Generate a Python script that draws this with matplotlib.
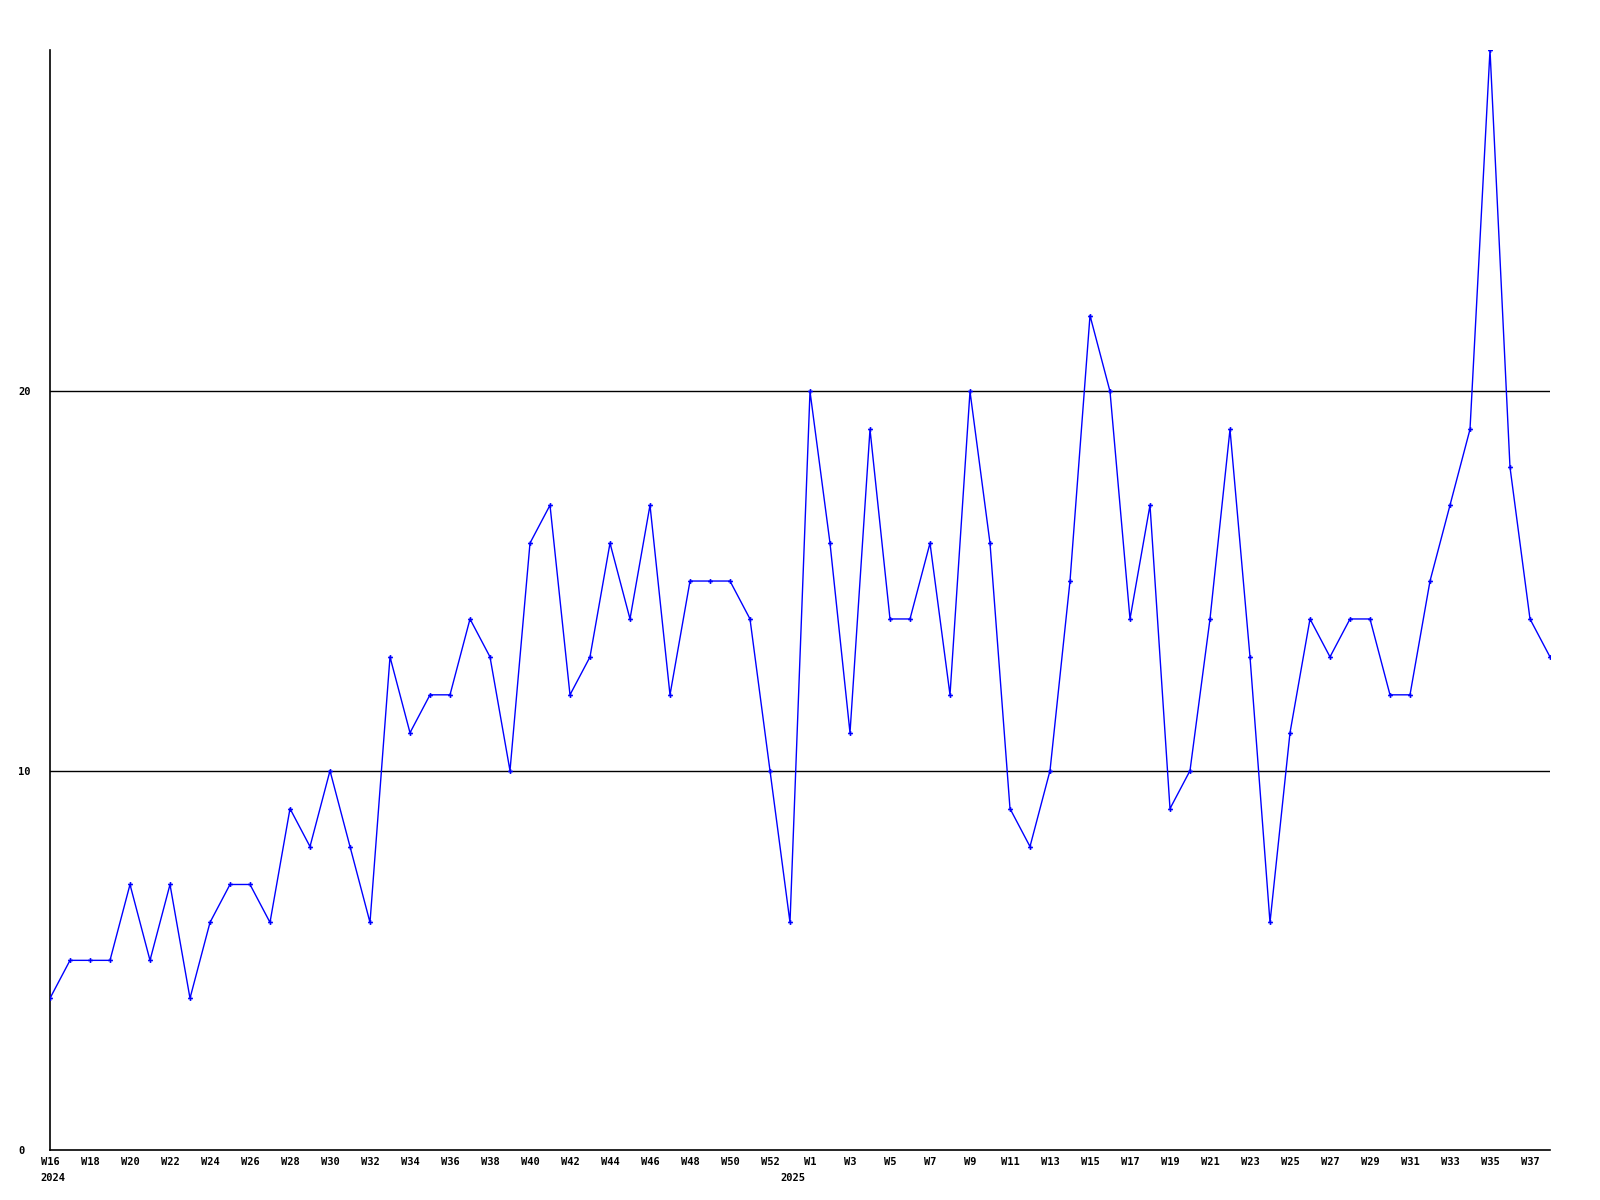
import matplotlib
matplotlib.use("Agg")
import matplotlib.pyplot as plt
import matplotlib.transforms as mtransforms

# weekly counts, W16 2024 .. W53 2024, then W1 2025 .. W38 2025
weeks_2024 = ["W%d" % w for w in range(16, 54)]
values_2024 = [4, 5, 5, 5, 7, 5, 7, 4, 6, 7, 7, 6, 9, 8, 10, 8, 6, 13, 11, 12,
               12, 14, 13, 10, 16, 17, 12, 13, 16, 14, 17, 12, 15, 15, 15, 14, 10, 6]
weeks_2025 = ["W%d" % w for w in range(1, 39)]
values_2025 = [20, 16, 11, 19, 14, 14, 16, 12, 20, 16, 9, 8, 10, 15, 22, 20, 14, 17, 9, 10,
               14, 19, 13, 6, 11, 14, 13, 14, 14, 12, 12, 15, 17, 19, 29, 18, 14, 13]
year_labels = ["2024", "2025"]
year_starts = [0, 37]
y_ticks = [0, 10, 20]

labels = weeks_2024 + weeks_2025
values = values_2024 + values_2025
xs = list(range(len(values)))

font = {"family": "DejaVu Sans Mono", "weight": "bold", "size": 7.5}

fig = plt.figure(figsize=(16, 12), dpi=100)
ax = fig.add_axes([50 / 1600, 50 / 1200, 1500 / 1600, 1100 / 1200])

for yv in y_ticks[1:]:
    ax.axhline(yv, color="black", linewidth=1, zorder=1)

ax.plot(xs, values, color="#0000ff", linewidth=1, marker="P", markersize=3.5,
        markeredgewidth=0, zorder=3)

ax.set_xlim(0, len(values) - 1)
ax.set_ylim(0, max(values))

ax.spines["top"].set_visible(False)
ax.spines["right"].set_visible(False)
for s in ("left", "bottom"):
    ax.spines[s].set_linewidth(1.2)
    ax.spines[s].set_color("black")

ax.set_xticks(xs[::2])
ax.set_xticklabels(labels[::2], fontdict=font)
ax.set_yticks(y_ticks)
ax.set_yticklabels([str(v) for v in y_ticks], fontdict=font)
ax.tick_params(axis="x", length=0, pad=5)
ax.tick_params(axis="y", length=0, pad=23)
for t in ax.get_yticklabels():
    t.set_horizontalalignment("left")

trans = mtransforms.blended_transform_factory(ax.transData, ax.transAxes)
for lab, idx in zip(year_labels, year_starts):
    ax.text(idx - 0.5, -0.021, lab, transform=trans, ha="left", va="top", **font)

fig.savefig("out.png", dpi=100, facecolor="white")
